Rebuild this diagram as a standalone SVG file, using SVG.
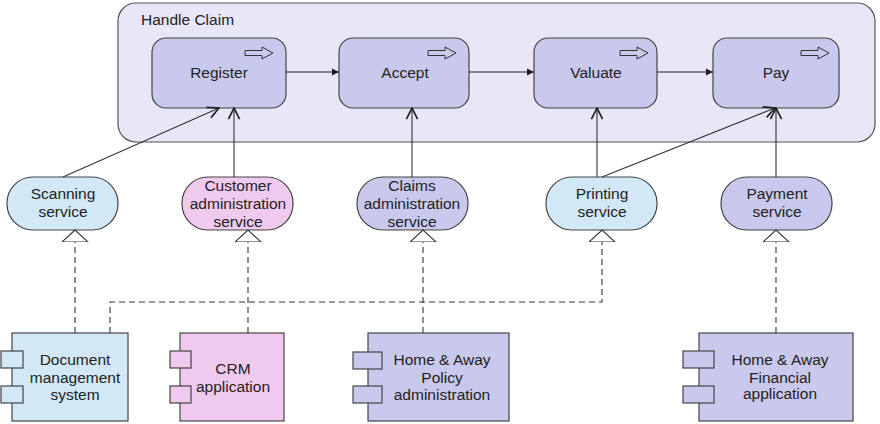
<svg xmlns="http://www.w3.org/2000/svg" width="880" height="424" viewBox="0 0 880 424">
<style>
text{font-family:"Liberation Sans",Arial,sans-serif;font-size:15.5px;fill:#222;text-anchor:middle}
.grp{fill:#e9e7f7;stroke:#555;stroke-width:1.2}
.proc{fill:#c9c9ee;stroke:#444;stroke-width:1.2}
.icon{fill:none;stroke:#333;stroke-width:1}
.blue{fill:#d2e8f6;stroke:#444;stroke-width:1.2}
.pink{fill:#f0caee;stroke:#444;stroke-width:1.2}
.lav{fill:#c9c9ee;stroke:#444;stroke-width:1.2}
.serv{fill:none;stroke:#333;stroke-width:1.1;marker-end:url(#open)}
.trig{fill:none;stroke:#222;stroke-width:1.1;marker-end:url(#filled)}
.real{fill:none;stroke:#333;stroke-width:1.1;stroke-dasharray:6 4;marker-end:url(#tri)}
.dash{fill:none;stroke:#333;stroke-width:1.1;stroke-dasharray:6 4}
</style>
<defs>
<marker id="open" markerUnits="userSpaceOnUse" markerWidth="14" markerHeight="14" refX="9" refY="5" orient="auto" viewBox="0 0 10 10">
<path d="M1,1 L9,5 L1,9" fill="none" stroke="#222" stroke-width="1.2"/>
</marker>
<marker id="filled" markerUnits="userSpaceOnUse" markerWidth="8" markerHeight="8" refX="7" refY="4" orient="auto" viewBox="0 0 8 8">
<path d="M0,0.5 L7,4 L0,7.5 Z" fill="#222"/>
</marker>
<marker id="tri" markerUnits="userSpaceOnUse" markerWidth="14" markerHeight="28" refX="12" refY="13" orient="auto" viewBox="0 0 14 28">
<path d="M0,0 L12,13 L0,26 Z" fill="#fff" stroke="#333" stroke-width="1.1"/>
</marker>
</defs>

<g id="handle-claim">
<rect class="grp" x="118" y="3" width="757" height="139" rx="18"/>
<text x="141" y="24.5" style="text-anchor:start">Handle Claim</text>
</g>

<g id="register">
<rect class="proc" x="152" y="38" width="134" height="70" rx="14"/>
<path class="icon" d="M245,50.5 H262 V47 L273,53 L262,59 V55.5 H245 Z"/>
<text x="219" y="78">Register</text>
</g>
<g id="accept">
<rect class="proc" x="339" y="38" width="130" height="70" rx="14"/>
<path class="icon" d="M428,50.5 H445 V47 L456,53 L445,59 V55.5 H428 Z"/>
<text x="405" y="78">Accept</text>
</g>
<g id="valuate">
<rect class="proc" x="534" y="38" width="123" height="70" rx="14"/>
<path class="icon" d="M620,50.5 H637 V47 L648,53 L637,59 V55.5 H620 Z"/>
<text x="596" y="78">Valuate</text>
</g>
<g id="pay">
<rect class="proc" x="713" y="38" width="126" height="70" rx="14"/>
<path class="icon" d="M801,50.5 H818 V47 L829,53 L818,59 V55.5 H801 Z"/>
<text x="776" y="78">Pay</text>
</g>

<g id="scanning-service">
<rect class="blue" x="7" y="177" width="111" height="53" rx="26"/>
<text x="63" y="199">Scanning</text>
<text x="63" y="217">service</text>
</g>
<g id="customer-administration-service">
<rect class="pink" x="182" y="177" width="111" height="53" rx="26"/>
<text x="238" y="191">Customer</text>
<text x="238" y="209">administration</text>
<text x="238" y="227">service</text>
</g>
<g id="claims-administration-service">
<rect class="lav" x="357" y="177" width="111" height="53" rx="26"/>
<text x="412" y="191">Claims</text>
<text x="412" y="209">administration</text>
<text x="412" y="227">service</text>
</g>
<g id="printing-service">
<rect class="blue" x="546" y="177" width="111" height="53" rx="26"/>
<text x="602" y="199">Printing</text>
<text x="602" y="217">service</text>
</g>
<g id="payment-service">
<rect class="lav" x="721" y="177" width="111" height="53" rx="26"/>
<text x="777" y="199">Payment</text>
<text x="777" y="217">service</text>
</g>

<g id="document-management-system">
<rect class="blue" x="12" y="333" width="116" height="88"/>
<rect class="blue" x="1" y="351" width="22" height="17"/>
<rect class="blue" x="1" y="386" width="22" height="17"/>
<text x="75" y="364.5">Document</text>
<text x="75" y="382.5">management</text>
<text x="75" y="400">system</text>
</g>
<g id="crm-application">
<rect class="pink" x="180" y="333" width="104" height="88"/>
<rect class="pink" x="170" y="351" width="21" height="17"/>
<rect class="pink" x="170" y="386" width="21" height="17"/>
<text x="233" y="373.5">CRM</text>
<text x="233" y="391.5">application</text>
</g>
<g id="home-away-policy-administration">
<rect class="lav" x="368" y="333" width="141" height="88"/>
<rect class="lav" x="353" y="352" width="29" height="17"/>
<rect class="lav" x="353" y="386" width="29" height="17"/>
<text x="442" y="364.5">Home &amp; Away</text>
<text x="442" y="382.5">Policy</text>
<text x="442" y="400">administration</text>
</g>
<g id="home-away-financial-application">
<rect class="lav" x="699" y="333" width="154" height="88"/>
<rect class="lav" x="683" y="351" width="31" height="17"/>
<rect class="lav" x="683" y="386" width="31" height="17"/>
<text x="780" y="364.5">Home &amp; Away</text>
<text x="780" y="382.5">Financial</text>
<text x="780" y="399">application</text>
</g>

<g id="connectors">
<path class="trig" d="M286,72 H339"/>
<path class="trig" d="M469,72 H534"/>
<path class="trig" d="M657,72 H713"/>
<path class="serv" d="M63,177 L219,108"/>
<path class="serv" d="M234,177 V108"/>
<path class="serv" d="M412,177 V108"/>
<path class="serv" d="M597,177 V108"/>
<path class="serv" d="M602,177 L775,108"/>
<path class="serv" d="M776,177 V108"/>
<path class="real" d="M75,333 V230"/>
<path class="real" d="M248,333 V230"/>
<path class="real" d="M423,333 V230"/>
<path class="real" d="M776,333 V230"/>
<path class="real" d="M110,333 V302 H602 V230"/>
</g>
</svg>
